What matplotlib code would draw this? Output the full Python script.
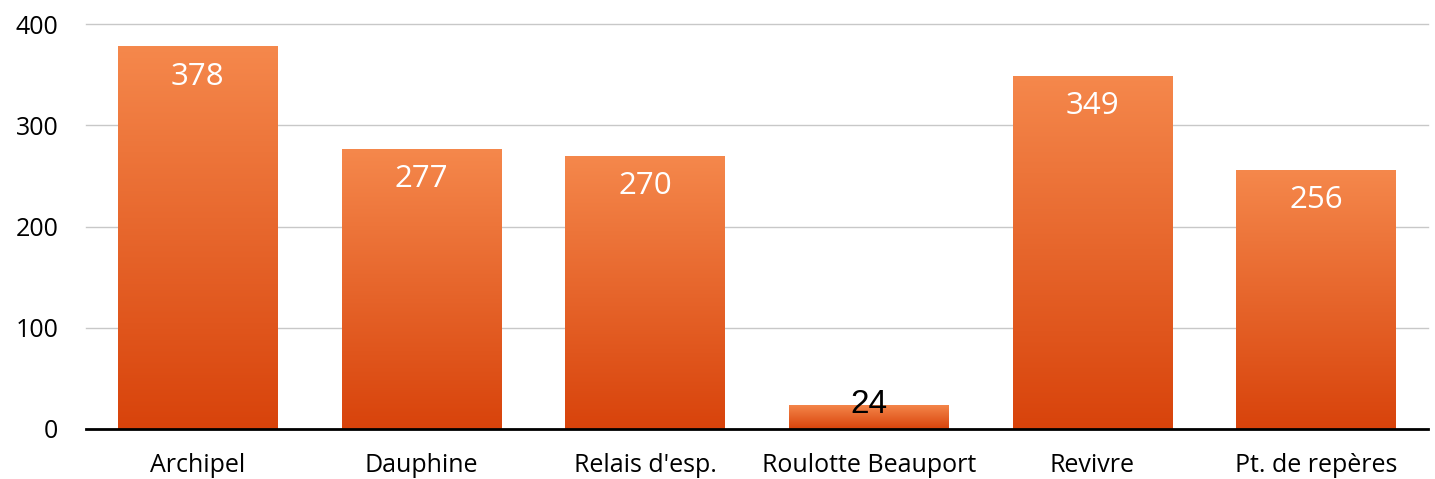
import numpy as np
import matplotlib.pyplot as plt
from matplotlib.colors import LinearSegmentedColormap

categories = ["Archipel", "Dauphine", "Relais d'esp.", "Roulotte Beauport", "Revivre", "Pt. de repères"]
values = [378, 277, 270, 24, 349, 256]
y_ticks = [0, 100, 200, 300, 400]

plt.rcParams["font.family"] = ["Open Sans", "DejaVu Sans"]

fig = plt.figure(figsize=(14.35, 4.79), dpi=100)
ax = fig.add_axes([86 / 1435, 50 / 479, 1342 / 1435, 405 / 479])

grad = LinearSegmentedColormap.from_list("bar", ["#D8430B", "#F5884C"])
x = np.arange(len(categories))
bars = ax.bar(x, values, width=0.715, color="none", edgecolor="none", zorder=2)
g = np.linspace(0, 1, 256).reshape(-1, 1)
for b in bars:
    x0, y0 = b.get_x(), b.get_y()
    w, h = b.get_width(), b.get_height()
    im = ax.imshow(g, cmap=grad, origin="lower", aspect="auto",
                   extent=[x0, x0 + w, y0, y0 + h], zorder=2)
    im.set_clip_path(b)

for xi, v in zip(x, values):
    if v > 50:
        ax.text(xi, v - 30, str(v), ha="center", va="center", color="white",
                fontsize=22.5, zorder=3)
    else:
        ax.text(xi, v, str(v), ha="center", va="center", color="black",
                fontsize=24, family="Liberation Sans", zorder=3)

ax.set_xlim(-0.5, len(categories) - 0.5)
ax.set_ylim(0, 400)
ax.set_yticks(y_ticks)
ax.set_yticklabels([str(t) for t in y_ticks], fontsize=18)
ax.set_xticks(x)
ax.set_xticklabels(categories, fontsize=18)
ax.tick_params(length=0)
ax.tick_params(axis="y", pad=20)
ax.tick_params(axis="x", pad=17)
ax.grid(axis="y", color="#C8C8C8", linewidth=1, zorder=0)
ax.set_axisbelow(True)
for s in ["top", "right", "left"]:
    ax.spines[s].set_visible(False)
ax.spines["bottom"].set_linewidth(2)
ax.spines["bottom"].set_zorder(4)
for gl in ax.get_ygridlines():
    gl.set_clip_on(False)

fig.savefig("out.png", dpi=100)
